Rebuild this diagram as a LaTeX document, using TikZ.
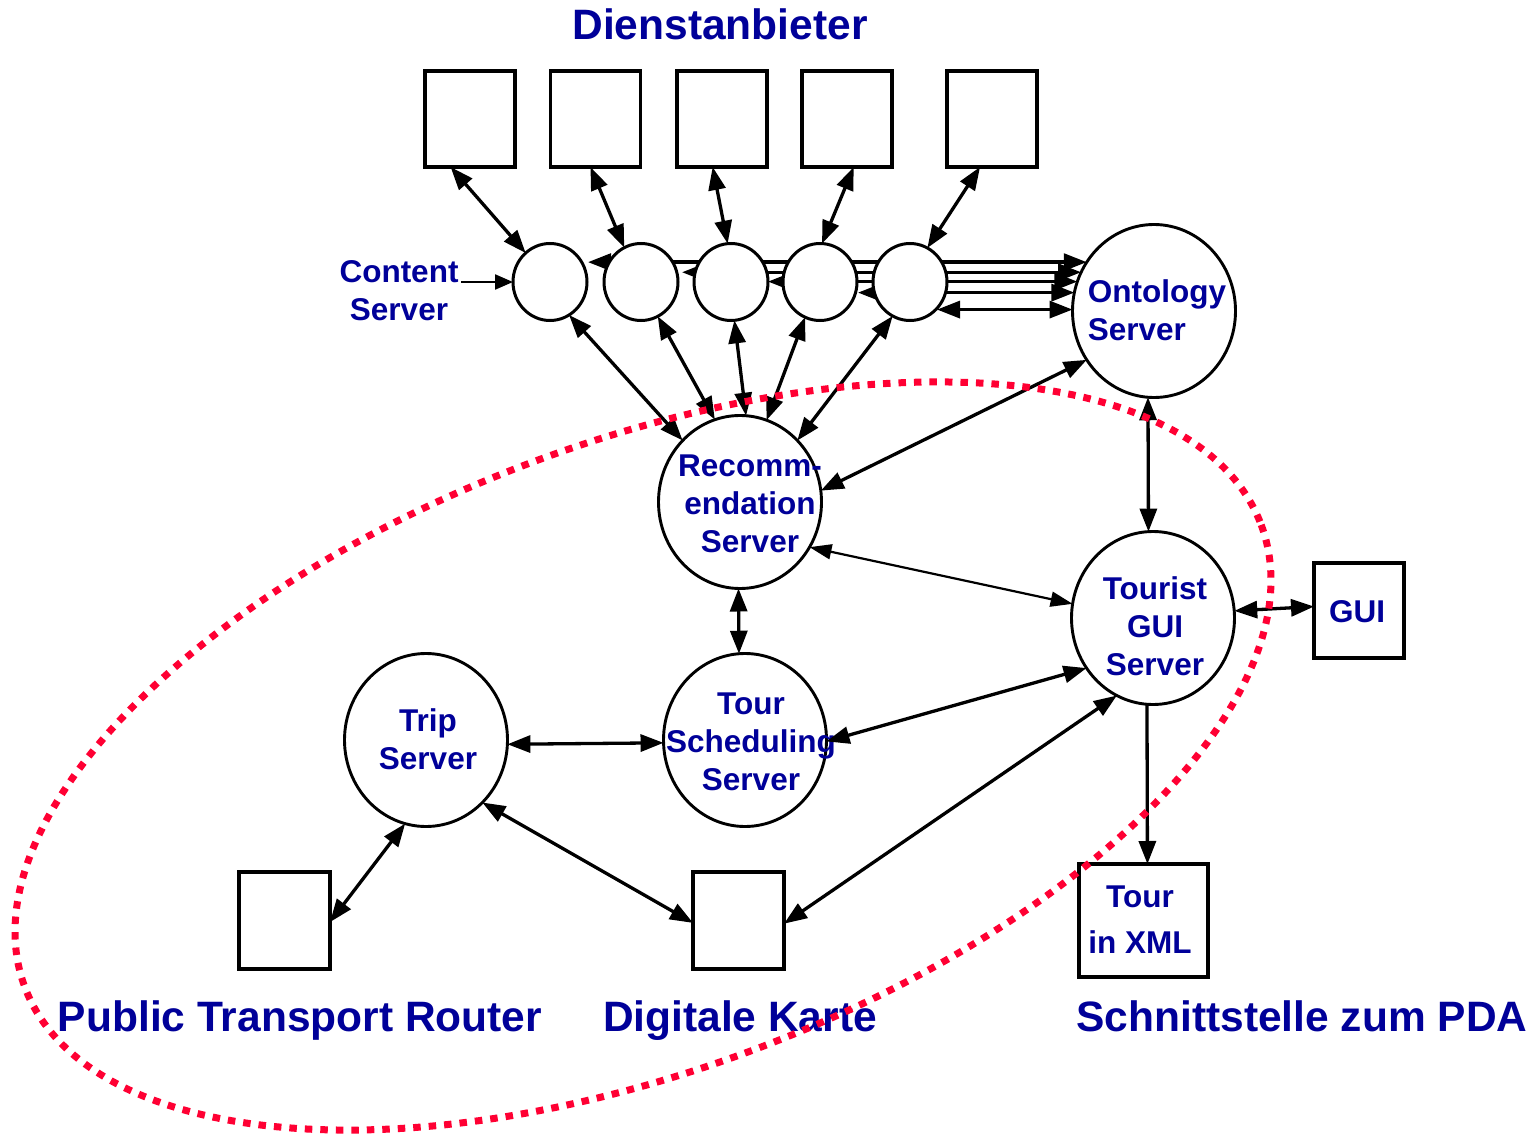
\documentclass[tikz,border=0pt]{standalone}
\usepackage{fontspec}
\setmainfont{Liberation Sans}
\usetikzlibrary{arrows.meta,calc,shapes.geometric}
\definecolor{labelblue}{RGB}{0,0,153}
\definecolor{groupred}{RGB}{255,0,51}
\pgfdeclarelayer{bg}
\pgfdeclarelayer{fg}
\pgfsetlayers{bg,main,fg}

\begin{document}
\begin{tikzpicture}[x=1pt,y=-1pt,
  every node/.style={inner sep=0pt,outer sep=0pt},
  box/.style={draw,line width=3.2pt,fill=white,minimum width=90pt,minimum height=96pt},
  csrv/.style={ellipse,draw,line width=3pt,fill=white,minimum width=74pt,minimum height=77pt},
  srv/.style={ellipse,draw,line width=2.9pt,fill=white,minimum width=163pt,minimum height=173pt},
  lbl/.style={text=labelblue,font=\fontsize{31.5}{38}\selectfont\bfseries,align=center},
  big/.style={text=labelblue,font=\fontsize{42.5}{50}\selectfont\bfseries},
  link/.style={line width=3.3pt,{Triangle[length=23pt,width=17pt]}-{Triangle[length=23pt,width=17pt]}},
  thinlink/.style={line width=2.2pt,{Triangle[length=22pt,width=15pt]}-{Triangle[length=22pt,width=15pt]}},
  oneway/.style={line width=3.3pt,-{Triangle[length=23pt,width=17pt]}},
  group/.style={groupred,line width=7pt,dash pattern=on 7.5pt off 8pt}
]
\useasboundingbox (0,0) rectangle (1534,1134);

% service providers
\node[big,anchor=base] (title) at (720,40) {Dienstanbieter};
\node[box] (b1) at (470,119) {};
\node[box] (b2) at (595.5,119) {};
\node[box] (b3) at (722,119) {};
\node[box] (b4) at (847,119) {};
\node[box] (b5) at (992,119) {};

% content servers
\node[csrv] (c1) at (550,282) {};
\node[csrv] (c2) at (641,282) {};
\node[csrv] (c3) at (731,282) {};
\node[csrv] (c4) at (820,282) {};
\node[csrv] (c5) at (910,282) {};
\node[lbl] (cs) at (399,291) {Content\\Server};

% main servers
\node[srv] (onto) at (1154,311) {};
\node[lbl,align=left] (onto-t) at (1157,310) {Ontology\\Server};
\node[srv] (rec) at (740,502) {};
\node[lbl] (rec-t) at (750,504) {Recomm-\\endation\\Server};
\node[srv] (tgs) at (1153,618) {};
\node[lbl] (tgs-t) at (1155,626) {Tourist\\GUI\\Server};
\node[srv] (tss) at (745,740) {};
\node[lbl] (tss-t) at (751,742) {Tour\\Scheduling\\Server};
\node[srv] (trip) at (426,740) {};
\node[lbl] (trip-t) at (428,739) {Trip\\Server};

% peripheral boxes
\node[box,minimum width=90pt,minimum height=95pt] (gui) at (1359,610.5) {};
\node[lbl] (gui-t) at (1357,612) {GUI};
\node[box,minimum width=91pt,minimum height=97pt] (ptr) at (284.5,920.5) {};
\node[box,minimum width=91pt,minimum height=97pt] (dk) at (738.5,920.5) {};
\node[box,minimum width=129pt,minimum height=113pt] (xml) at (1143.5,920.5) {};
\node[lbl,font=\fontsize{31.5}{46}\selectfont\bfseries] (xml-t) at (1140,920) {Tour\\in XML};

% bottom captions
\node[big,anchor=base] (cap1) at (300,1031) {Public Transport Router};
\node[big,anchor=base] (cap2) at (740,1031) {Digitale Karte};
\node[big,anchor=base] (cap3) at (1302,1031) {Schnittstelle zum PDA};

% content servers to ontology server (run behind the circles)
\begin{pgfonlayer}{bg}
\draw[link] ($(onto.144.5 -| c2.west)+(-16,0)$) -- (onto.144.5);
\draw[link] ($(onto.152.4 -| c3.west)+(-12,0)$) -- (onto.152.4);
\draw[link] ($(onto.159.9 -| c4.west)+(-15,0)$) -- (onto.159.9);
\draw[link] ($(onto.167.2 -| c5.west)+(-15,0)$) -- (onto.167.2);
\draw[link] ($(onto.179.3 -| c5.east)+(-10,0)$) -- (onto.179.3);
\end{pgfonlayer}

% providers to content servers
\draw[link] (b1.248.6) -- (c1.130);
\draw[link] (b2.264) -- (c2.116);
\draw[link] (b3.259) -- (c3.95.7);
\draw[link] (b4.278.7) -- (c4.87);
\draw[link] (b5.256.8) -- (c5.63.4);

\draw[line width=2.2pt,-{Triangle[length=18pt,width=15pt]}] ($(cs.east |- c1.west)+(3,0)$) -- (c1.west);

% content servers to recommendation server
\draw[link] (c1.300) -- (rec.133);
\draw[link] (c2.296) -- (rec.107.5);
\draw[link] (c3.275.3) -- (rec.86);
\draw[link] (c4.247) -- (rec.72.5);
\draw[link] (c5.243.4) -- (rec.47.1);

% server connections
\draw[link] (onto.216.6) -- (rec.8.3);
\draw[link] (onto.266) -- (tgs.93.3);
\draw[link] (tgs.5.4) -- (gui.175.7);
\draw[thinlink] (rec.327) -- (tgs.170.4);
\draw[link] (rec.269) -- (tss.94);
\draw[link] (trip.357.3) -- (tss.182.7);
\draw[link] (tss.359) -- (tgs.217.6);
\draw[link] (tgs.245.8) -- (dk.356.9);
\draw[link] (trip.312.1) -- (dk.183.1);
\draw[link] (trip.256.6) -- (ptr.358.1);
\draw[oneway] (tgs.266) -- (xml.86.5);

% grouping of the core servers
\begin{pgfonlayer}{fg}
\draw[group,rotate around={20.5:(643,756)}] (643,756) ellipse [x radius=660, y radius=314];
\end{pgfonlayer}
\end{tikzpicture}
\end{document}
